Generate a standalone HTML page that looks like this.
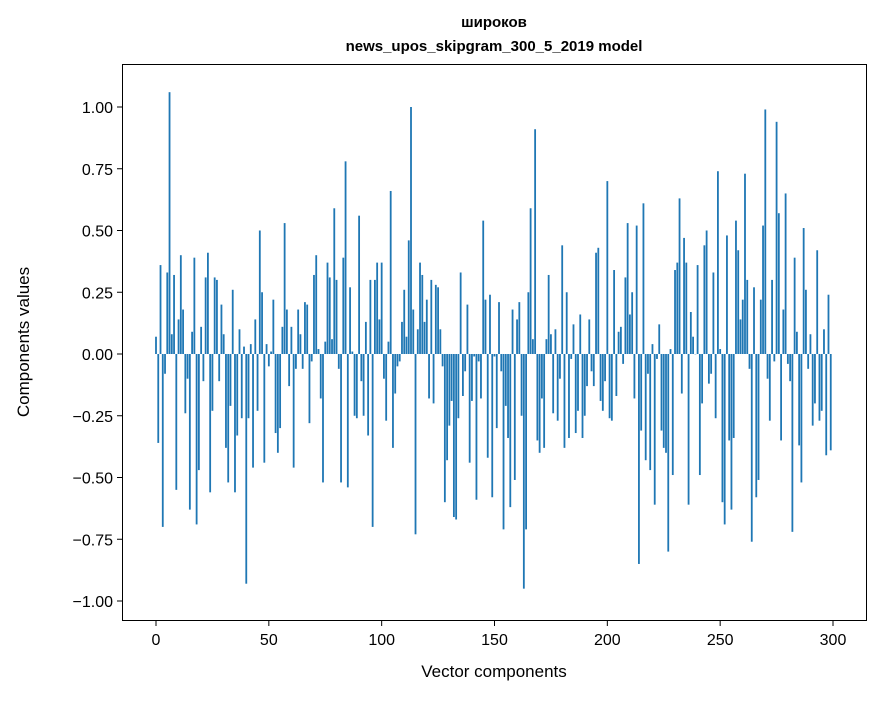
<!DOCTYPE html>
<html><head><meta charset="utf-8"><style>
body{margin:0;background:#fff;}
svg text{font-family:"Liberation Sans","DejaVu Sans",sans-serif;}
</style></head><body>
<svg id="chart" width="880" height="696" xmlns="http://www.w3.org/2000/svg">
<rect width="880" height="696" fill="#fff"/>
<text x="494" y="27" font-size="15" font-weight="bold" text-anchor="middle" font-family="Liberation Sans, DejaVu Sans, sans-serif">широков</text>
<text x="494" y="51" font-size="15" font-weight="bold" text-anchor="middle">news_upos_skipgram_300_5_2019 model</text>
<g id="bars"></g>
<rect x="122.5" y="64.5" width="744" height="556" fill="none" stroke="#000" stroke-width="1"/>
<g id="xticks"></g>
<g id="yticks"></g>
<text x="494" y="677" font-size="17" text-anchor="middle">Vector components</text>
<text transform="translate(29,342) rotate(-90)" font-size="17" text-anchor="middle">Components values</text>
</svg>
<script>
const seg1=[0.07,-0.36,0.36,-0.70,-0.08,0.33,1.06,0.08,0.32,-0.55,0.14,0.40,0.18,-0.24,-0.10,-0.63,0.09,0.39,-0.69,-0.47,0.11,-0.11,0.31,0.41,-0.56,-0.23,0.31,0.30,-0.11,0.20,0.08,-0.38,-0.52,-0.21,0.26,-0.56,-0.33,0.10,-0.26,0.03,-0.93,-0.26,0.04,-0.46,0.14,-0.23,0.50,0.25,-0.44,0.04,-0.05];
const seg2=[0.01,0.22,-0.32,-0.40,-0.30,0.11,0.53,0.18,-0.13,0.11,-0.46,-0.06,0.18,0.08,-0.06,0.21,0.20,-0.28,-0.03,0.32,0.40,0.02,-0.18,-0.52,0.05,0.37,0.31,0.06,0.59,0.30,-0.06,-0.52,0.39,0.78,-0.54,0.27,0.01,-0.25,-0.26,0.56,-0.11,-0.25,0.13,-0.33,0.30,-0.70,0.30,0.37,0.14,0.37,-0.10];
const seg3=[-0.27,0.05,0.66,-0.38,-0.16,-0.05,-0.03,0.13,0.26,0.07,0.46,1.00,0.18,-0.73,0.10,0.37,0.32,0.13,0.22,-0.18,0.30,-0.20,0.28,0.27,0.10,-0.05,-0.60,-0.43,-0.29,-0.19,-0.66,-0.67,-0.26,0.33,-0.17,-0.07,0.20,-0.44,-0.19,-0.01,-0.59,-0.03,-0.18,0.54,0.22,-0.42,0.24,-0.58,-0.01,-0.30,0.21];
const seg4=[-0.07,-0.71,-0.21,-0.34,-0.62,0.18,-0.51,0.14,0.21,-0.25,-0.95,-0.71,0.25,0.59,0.06,0.91,-0.35,-0.40,-0.18,-0.38,0.06,0.32,0.08,-0.24,0.10,-0.27,-0.10,0.44,-0.38,0.25,-0.34,-0.02,0.12,-0.32,-0.23,0.16,-0.34,-0.25,-0.13,0.14,-0.07,-0.13,0.41,0.43,-0.19,-0.23,-0.11,0.70,-0.26,-0.27,0.34];
const seg5=[-0.17,0.09,0.11,-0.04,0.31,0.53,0.16,0.25,-0.18,0.52,-0.85,-0.31,0.61,-0.43,-0.08,-0.47,0.04,-0.61,-0.02,0.12,-0.31,-0.38,-0.40,-0.80,0.02,-0.49,0.34,0.37,0.63,-0.16,0.47,0.37,-0.61,0.17,0.07,0.00,0.36,-0.49,-0.20,0.44,0.50,-0.12,-0.08,0.33,-0.26,0.74,0.02,-0.60,-0.69,0.48,-0.35];
const seg6=[-0.63,-0.34,0.54,0.42,0.14,0.22,0.73,0.30,-0.06,-0.76,0.27,-0.58,-0.51,0.22,0.52,0.99,-0.10,-0.27,0.30,-0.03,0.94,0.57,-0.35,0.18,0.65,-0.04,-0.11,-0.72,0.39,0.09,-0.37,-0.52,0.51,0.26,-0.06,0.08,-0.29,-0.20,0.42,-0.27,-0.23,0.10,-0.41,0.24,-0.39];
const values=seg1.concat(seg2,seg3,seg4,seg5,seg6);
const xTicks=[0,50,100,150,200,250,300];
const yTicks=[-1.00,-0.75,-0.50,-0.25,0.00,0.25,0.50,0.75,1.00];

const NS="http://www.w3.org/2000/svg";
const xScale=v=>156+v*(677/300);
const yScale=v=>354-v*247;
const bw=0.8*(677/300);
const gb=document.getElementById('bars');
values.forEach((v,i)=>{
  const r=document.createElementNS(NS,'rect');
  
  
  const y0=yScale(0), y1=yScale(v);
  r.setAttribute('x',xScale(i)-bw/2);
  r.setAttribute('y',Math.min(y0,y1));
  r.setAttribute('width',bw);
  r.setAttribute('height',Math.max(Math.abs(y1-y0),0.3));
  r.setAttribute('fill','#1f77b4');
  gb.appendChild(r);
});
const gx=document.getElementById('xticks');
xTicks.forEach(t=>{
  const x=xScale(t);
  const l=document.createElementNS(NS,'line');
  
  
  l.setAttribute('x1',x);l.setAttribute('x2',x);l.setAttribute('y1',620.5);l.setAttribute('y2',626);
  l.setAttribute('stroke','#000');
  gx.appendChild(l);
  const tx=document.createElementNS(NS,'text');
  
  
  tx.setAttribute('x',x);tx.setAttribute('y',645);
  tx.setAttribute('font-size','16');tx.setAttribute('text-anchor','middle');
  tx.textContent=String(t);
  gx.appendChild(tx);
});
const gy=document.getElementById('yticks');
yTicks.forEach(t=>{
  const y=yScale(t);
  const l=document.createElementNS(NS,'line');
  
  
  l.setAttribute('x1',117);l.setAttribute('x2',122.5);l.setAttribute('y1',y);l.setAttribute('y2',y);
  l.setAttribute('stroke','#000');
  gy.appendChild(l);
  const tx=document.createElementNS(NS,'text');
  
  
  tx.setAttribute('x',113);tx.setAttribute('y',y+6);
  tx.setAttribute('font-size','16');tx.setAttribute('text-anchor','end');
  tx.textContent=(t<0?'\u2212':'')+Math.abs(t).toFixed(2);
  gy.appendChild(tx);
});
</script>
</body></html>
